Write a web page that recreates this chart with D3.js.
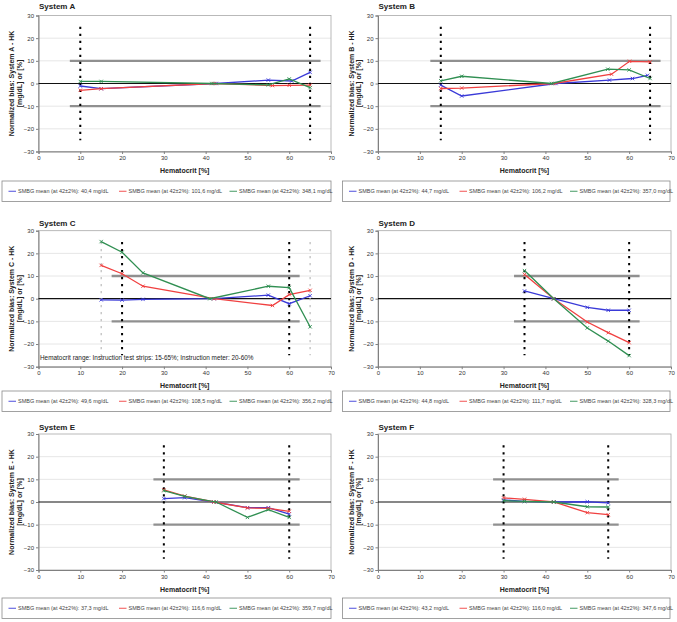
<!DOCTYPE html>
<html><head><meta charset="utf-8">
<script src="https://cdn.jsdelivr.net/npm/d3@7"></script>
<style>
html,body{margin:0;padding:0;background:#fff;}
svg{display:block;font-family:"Liberation Sans",Arial,sans-serif;}
</style></head>
<body><svg id="c" width="677" height="622"></svg>
<script>
// ---- data ----
const systems = ["A","B","C","D","E","F"];
const xTicks = [0,10,20,30,40,50,60,70];
const yTicks = [-30,-20,-10,0,10,20,30];
// [hematocrit, normalized bias]
const A_blue  = [[10,-1.1],[15,-2.3],[42.5,0],[55,1.5],[60.6,1.1],[65,4.9]];
const A_red   = [[10,-3.0],[15,-2.3],[42,0],[56,-0.9],[60,-0.8],[65,-0.7]];
const A_green = [[10,0.9],[15,0.9],[41.5,0],[55,-0.6],[60,2.0],[65,-1.8]];
const B_blue  = [[15,-0.7],[20,-5.5],[42.5,0],[55.3,1.5],[60.8,2.2],[64.4,3.6]];
const B_red   = [[15,-2.2],[20,-2.0],[42,0],[55.8,4.1],[60.1,9.8],[65,9.5]];
const B_green = [[15,1.2],[20,3.2],[41.5,0],[54.9,6.3],[60,6.0],[65,2.2]];
const C_blue  = [[15,-0.5],[20,-0.6],[25,-0.3],[42,0],[55,1.6],[60,-2.2],[65,1.3]];
const C_red   = [[15,14.7],[20,11.0],[25,5.5],[42,0],[56,-3.0],[60,1.8],[65,3.7]];
const C_green = [[15,25.2],[20,20.5],[25,11.4],[41,0],[55,5.5],[60,4.9],[65,-12.4]];
const D_blue  = [[35,3.4],[42,0],[50,-3.8],[55,-5.1],[60,-5.1]];
const D_red   = [[35,10.7],[42,0],[50,-10.3],[55,-15.0],[60,-19.4]];
const D_green = [[35,12.4],[42,0],[50,-12.9],[55,-18.7],[60,-25.1]];
const E_blue  = [[30,1.5],[35,1.9],[42,0],[50,-2.5],[55,-2.5],[60,-5.3]];
const E_red   = [[30,5.4],[35,2.6],[42,0],[50,-2.6],[55,-2.8],[60,-4.1]];
const E_green = [[30,5.0],[35,2.5],[42.5,0],[50,-6.8],[55,-3.4],[60,-6.8]];
const F_blue  = [[30,0.9],[35,0.3],[42,0],[50,0.1],[55,-0.4]];
const F_red   = [[30,1.8],[35,1.2],[42,0],[50,-4.7],[55,-5.6]];
const F_green = [[30,0.6],[35,0.3],[42,0],[50,-2.1],[55,-2.2]];
const seriesData = [[A_blue,A_red,A_green],[B_blue,B_red,B_green],[C_blue,C_red,C_green],
                    [D_blue,D_red,D_green],[E_blue,E_red,E_green],[F_blue,F_red,F_green]];
// hematocrit range given in the instructions (black dotted lines)
const hctRanges = [[10,65],[15,65],[20,60],[35,60],[30,60],[30,55]];
// extra strip range (grey dotted) for System C
const stripRangeC = [15,65];
const meanA = ["40,4","101,6","348,1"];
const meanB = ["44,7","106,2","357,0"];
const meanC = ["49,6","108,5","356,2"];
const meanD = ["44,8","111,7","328,3"];
const meanE = ["37,3","116,6","359,7"];
const meanF = ["43,2","116,0","347,6"];
const means = [meanA,meanB,meanC,meanD,meanE,meanF];
const noteC = "Hematocrit range: Instruction test strips: 15-65%; Instruction meter: 20-60%";

// ---- layout ----
const colors = ["#3a3ad8","#f04040","#308f52"];
const cols = [[38.5,331],[378,671]];
const rowTop = [15.5,230.7,434];
const plotH = 136;
const legendTop = [181,391,598];
const legendX = [[2,331],[342.5,670]];
const titleY = [9,226,430];

const svg = d3.select("#c");

systems.forEach((s,i)=>{
  const col = i%2, row = Math.floor(i/2);
  const [x0,x1] = cols[col];
  const top = rowTop[row], bot = top+plotH;
  const x = d3.scaleLinear().domain([0,70]).range([x0,x1]);
  const y = d3.scaleLinear().domain([-30,30]).range([bot,top]);
  const g = svg.append("g");

  // gridlines
  g.selectAll(".grid").data(yTicks.filter(t=>t!==-30&&t!==30&&t!==0)).enter().append("line")
    .attr("x1",x0).attr("x2",x1).attr("y1",d=>y(d)).attr("y2",d=>y(d))
    .attr("stroke","#e6e6e6").attr("stroke-width",1);
  // plot border
  g.append("rect").attr("x",x0).attr("y",top).attr("width",x1-x0).attr("height",plotH)
    .attr("fill","none").attr("stroke","#a8a8a8").attr("stroke-width",0.8);

  // axes
  const ax = g.append("g").attr("transform",`translate(0,${bot})`)
    .call(d3.axisBottom(x).tickValues(xTicks).tickSize(2.5).tickPadding(2));
  const ay = g.append("g").attr("transform",`translate(${x0},0)`)
    .call(d3.axisLeft(y).tickValues(yTicks).tickSize(2.5).tickPadding(2));
  [ax,ay].forEach(a=>{
    a.select(".domain").attr("stroke","#808080");
    a.selectAll(".tick line").attr("stroke","#808080");
    a.selectAll("text").attr("font-size","6px").attr("fill","#333")
      .attr("font-family","Liberation Sans, Arial, sans-serif");
  });

  // ±10 limit lines
  const rng = hctRanges[i];
  g.selectAll(".lim").data([10,-10]).enter().append("line")
    .attr("x1",x(rng[0]-2.5)).attr("x2",x(rng[1]+2.5))
    .attr("y1",d=>y(d)).attr("y2",d=>y(d))
    .attr("stroke","#909090").attr("stroke-width",2.4);

  // zero line
  g.append("line").attr("x1",x0).attr("x2",x1).attr("y1",y(0)).attr("y2",y(0))
    .attr("stroke","#111").attr("stroke-width",1.2);

  // grey dotted (strip range) for C
  if (s==="C") {
    g.selectAll(".gd").data(stripRangeC).enter().append("line")
      .attr("x1",d=>x(d)).attr("x2",d=>x(d)).attr("y1",y(25)).attr("y2",y(-25))
      .attr("stroke","#b4b4b4").attr("stroke-width",1.1).attr("stroke-dasharray","2.2,4.8");
  }
  // black dotted vertical range lines
  g.selectAll(".vd").data(rng).enter().append("line")
    .attr("x1",d=>x(d)).attr("x2",d=>x(d)).attr("y1",y(25)).attr("y2",y(-25))
    .attr("stroke","#000").attr("stroke-width",2).attr("stroke-dasharray","2.2,4.8");

  // series
  const line = d3.line().x(d=>x(d[0])).y(d=>y(d[1]));
  const sym = d3.symbol().type(d3.symbolX).size(9);
  seriesData[i].forEach((ser,k)=>{
    g.append("path").attr("d",line(ser)).attr("fill","none")
      .attr("stroke",colors[k]).attr("stroke-width",1.3);
    g.selectAll(null).data(ser).enter().append("path")
      .attr("transform",d=>`translate(${x(d[0])},${y(d[1])})`)
      .attr("d",sym).attr("fill","none").attr("stroke",colors[k]).attr("stroke-width",0.9);
  });

  if (s==="C") {
    g.append("text").attr("x",x0+1.5).attr("y",y(-25.9)).attr("dy","0.35em")
      .attr("font-size","6.4px").attr("fill","#222").text(noteC);
  }

  // titles
  g.append("text").attr("x",x0+0.5).attr("y",titleY[row]).attr("font-size","8px")
    .attr("font-weight","bold").attr("fill","#222").text("System "+s);
  g.append("text").attr("x",(x0+x1)/2).attr("y",bot+21.5).attr("text-anchor","middle")
    .attr("font-size","7px").attr("font-weight","bold").attr("fill","#222").text("Hematocrit [%]");
  const yl = g.append("text").attr("transform",`translate(${x0-26.5},${(top+bot)/2}) rotate(-90)`)
    .attr("text-anchor","middle").attr("font-size","7px").attr("font-weight","bold").attr("fill","#222");
  yl.append("tspan").attr("x",0).attr("dy","0.35em").text(`Normalized bias: System ${s} - HK`);
  yl.append("tspan").attr("x",0).attr("dy","1.05em").text("[mg/dL] or [%]");

  // legend
  const [lx0,lx1] = legendX[col];
  const lt = legendTop[row];
  g.append("rect").attr("x",lx0).attr("y",lt).attr("width",lx1-lx0).attr("height",20.5)
    .attr("fill","#fff").attr("stroke","#8a8a8a").attr("stroke-width",0.8);
  means[i].forEach((m,k)=>{
    const ix = lx0 + 6.5 + k*110.5;
    const cy = lt+10.25;
    g.append("line").attr("x1",ix).attr("x2",ix+7.5).attr("y1",cy).attr("y2",cy)
      .attr("stroke",colors[k]).attr("stroke-width",0.9);
    g.append("text").attr("x",ix+9.5).attr("y",cy).attr("dy","0.35em")
      .attr("font-size","5.5px").attr("fill","#444").text(`SMBG mean (at 42±2%): ${m} mg/dL`);
  });
});
</script></body></html>
